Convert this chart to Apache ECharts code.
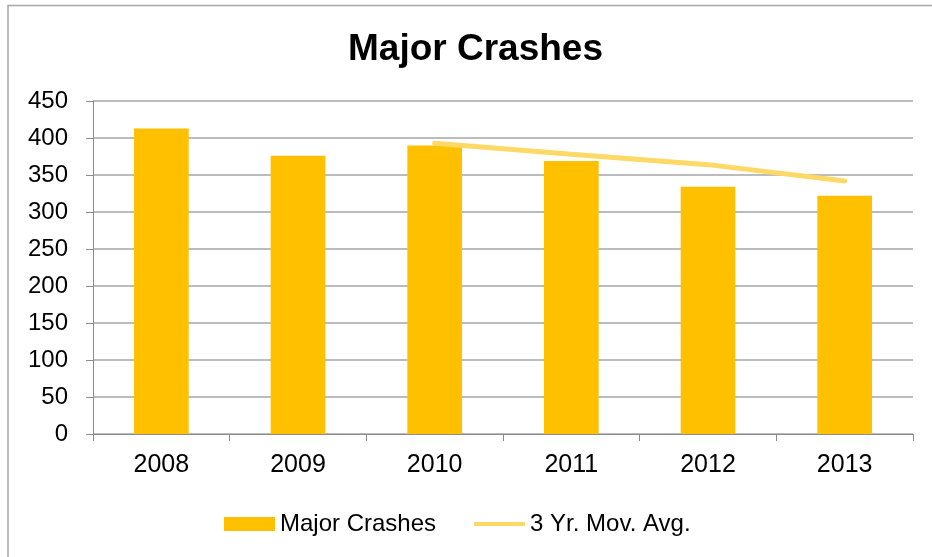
<!DOCTYPE html>
<html><head><meta charset="utf-8">
<script src="https://cdn.jsdelivr.net/npm/echarts@6/dist/echarts.min.js"></script>
<style>html,body{margin:0;padding:0;background:#fff}#c{width:932px;height:557px}</style>
</head><body><div id="c"></div>
<script>
const categories = ['2008','2009','2010','2011','2012','2013'];
const majorCrashes = [413, 376, 390, 369, 334, 322];
const movAvg = [null, null, 393, 378, 364, 342];
const yTicks = [0, 50, 100, 150, 200, 250, 300, 350, 400, 450];

const chart = echarts.init(document.getElementById('c'));
const font = 'Liberation Sans, Arial, sans-serif';
chart.setOption({
  animation: false,
  backgroundColor: '#fff',
  graphic: [{
    type: 'rect', shape: {x: 8, y: 5.5, width: 940, height: 560},
    style: {fill: 'none', stroke: '#a6a6a6', lineWidth: 1.5}, silent: true
  }],
  title: {
    text: 'Major Crashes', left: 343, top: 26, itemGap: 0,
    textStyle: {fontFamily: font, fontSize: 37, fontWeight: 'bold', color: '#000'}
  },
  legend: {
    top: 507, left: 219, itemGap: 38, itemWidth: 51, itemHeight: 14,
    textStyle: {fontFamily: font, fontSize: 24, color: '#000'},
    data: [{name: 'Major Crashes', icon: 'rect'}, {name: '3 Yr. Mov. Avg.', icon: 'path://M0,5 L50,5 L50,9 L0,9 Z'}]
  },
  grid: {left: 93, right: 19, top: 101, bottom: 123, containLabel: false},
  xAxis: {
    type: 'category', data: categories,
    axisLine: {lineStyle: {color: '#8c8c8c', width: 1}},
    axisTick: {show: true, length: 7, lineStyle: {color: '#8c8c8c'}},
    axisLabel: {fontFamily: font, fontSize: 25, color: '#000', margin: 19}
  },
  yAxis: {
    type: 'value', min: 0, max: 450, interval: 50,
    axisLine: {show: true, lineStyle: {color: '#8c8c8c'}},
    axisTick: {show: true, length: 7, inside: false, lineStyle: {color: '#8c8c8c'}},
    axisLabel: {fontFamily: font, fontSize: 24, color: '#000', margin: 25,
      formatter: v => yTicks.includes(v) ? String(v) : ''},
    splitLine: {lineStyle: {color: '#a6a6a6', width: 1.5}}
  },
  series: [
    {name: 'Major Crashes', type: 'bar', data: majorCrashes, barWidth: '40%',
     itemStyle: {color: '#ffc000'}},
    {name: '3 Yr. Mov. Avg.', type: 'line', data: movAvg, symbol: 'none',
     lineStyle: {color: '#ffd966', width: 5, cap: 'round'}, itemStyle: {color: '#ffd966'}}
  ]
});
</script></body></html>
